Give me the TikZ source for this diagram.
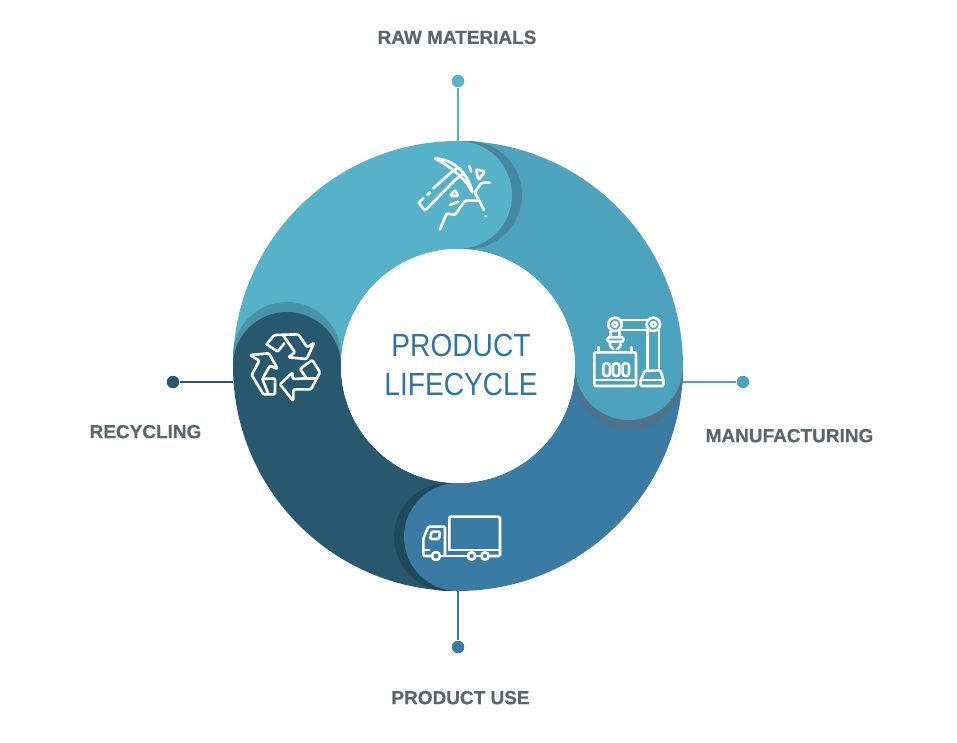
\documentclass[tikz,border=0pt]{standalone}
\usepackage{fontspec}
\setmainfont[BoldFeatures={FakeBold=0.5}]{Liberation Sans}
\newfontfamily\titlefont[FakeStretch=0.88]{Liberation Sans}
\usetikzlibrary{positioning,calc}
\definecolor{rawc}{HTML}{55B2C8}
\definecolor{manc}{HTML}{4DA3BE}
\definecolor{usec}{HTML}{3A7BA4}
\definecolor{recc}{HTML}{27586D}
\definecolor{rawsh}{HTML}{45879E}
\definecolor{mansh}{HTML}{4F728A}
\definecolor{usesh}{HTML}{1F4A5B}
\definecolor{recsh}{HTML}{4793A8}
\definecolor{labelc}{HTML}{5A666E}
\definecolor{titlec}{HTML}{2F74A0}
\tikzset{
    stage dot/.style={circle,fill=#1,inner sep=0pt,minimum size=12.5*0.02cm},
    stage label/.style={font=\bfseries\fontsize{10.8}{13}\selectfont,text=labelc,inner sep=0pt},
    stem/.style={line width=0.6pt},
    icon/.style={draw=white,line width=1.5pt,line join=round,line cap=round,rounded corners=0.7pt},
}
\newcommand{\ringpart}[2]{\fill[#2] (458,366) ++(#1:225) arc (#1:#1+90:225) -- ($(458,366)+(#1+90:117)$) arc (#1+90:#1:117) -- cycle;}

\begin{document}
\begin{tikzpicture}[x=0.02cm,y=-0.02cm]
    \useasboundingbox (0,0) rectangle (957,743);

    % ring, one quarter per stage
    \ringpart{180}{rawc}
    \ringpart{270}{manc}
    \ringpart{0}{usec}
    \ringpart{90}{recc}

    % rounded heads with their shadows
    \fill[rawsh] (468,195) circle (54);
    \fill[rawc] (458,195) circle (54);
    \fill[mansh] (629,376) circle (54);
    \fill[manc] (629,366) circle (54);
    \fill[usesh] (448,537) circle (54);
    \fill[usec] (458,537) circle (54);
    \fill[recsh] (287,356) circle (54);
    \fill[recc] (287,366) circle (54);

    \node[circle,fill=white,inner sep=0pt,minimum size=234*0.02cm] (hub) at (458,366) {};
    \node[font=\titlefont\fontsize{18.2}{22.7}\selectfont,text=titlec,align=center,inner sep=0pt] (title) at (461,365) {PRODUCT\\LIFECYCLE};

    % connectors
    \coordinate (ringN) at (458,141);
    \coordinate (ringE) at (683,382);
    \coordinate (ringS) at (458,591);
    \coordinate (ringW) at (233,382);
    \node[stage dot=rawc] (dotN) at (458,81) {};
    \node[stage dot=manc] (dotE) at (743,382) {};
    \node[stage dot=usec] (dotS) at (458,647) {};
    \node[stage dot=recc] (dotW) at (173,382) {};
    \draw[stem,draw=rawc] (dotN) -- (ringN);
    \draw[stem,draw=manc] (ringE) -- (dotE);
    \draw[stem,draw=usec] (ringS) -- (dotS);
    \draw[stem,draw=recc] (dotW) -- (ringW);

    \node[stage label] (lblN) [above=0.6cm of dotN, xshift=-0.02cm]{RAW MATERIALS};
    \node[stage label] (lblE) [below=0.8cm of dotE, xshift=0.93cm]{MANUFACTURING};
    \node[stage label] (lblS) [below=0.74cm of dotS, xshift=0.05cm]{PRODUCT USE};
    \node[stage label] (lblW) [below=0.72cm of dotW, xshift=-0.55cm]{RECYCLING};

    % pick and rock
    \begin{scope}[shift={(400,130)},scale=1/3,icon]
        \draw (105,85) .. controls (160,88) and (205,130) .. (218,190) .. controls (200,150) and (160,115) .. (105,85);
        \draw (150,130) -- (175,112) -- (192,130) -- (165,150);
        \draw (150,130) -- (100,175) (90,187) -- (82,194);
        \draw (70,205) -- (55,218) -- (75,242) -- (165,150);
        \draw (165,180) -- (150,198) -- (175,198) -- cycle;
        \draw (150,225) -- (175,215);
        \draw (228,118) -- (255,125) -- (235,150) -- cycle;
        \draw (208,108) -- (213,125);
        \draw (120,298) -- (140,250) -- (165,255) -- (195,212) -- (238,212) -- (224,188) -- (245,158) -- (270,158);
        \draw (238,212) -- (252,240) (257,258) -- (257,258.5);
    \end{scope}

    % robot arm and crate
    \begin{scope}[shift={(560,300)},scale=1/3,icon]
        \draw (103,157) rectangle (228,258);
        \draw (103,240) -- (228,240);
        \draw (115,157) -- (115,142) (215,157) -- (215,142);
        \draw[rounded corners=1.5pt] (130,190) rectangle (150,228);
        \draw[rounded corners=1.5pt] (159,190) rectangle (178,228);
        \draw[rounded corners=1.5pt] (188,190) rectangle (207,228);
        \draw (165,73) circle (20) (165,73) circle (7);
        \draw (280,73) circle (20) (280,73) circle (7);
        \draw (185,60) -- (260,60) (185,90) -- (260,90);
        \draw (263,92) -- (263,212) (297,92) -- (297,212);
        \draw (255,212) -- (302,212) -- (310,240) -- (310,258) -- (242,258) -- (242,240) -- cycle;
        \draw (242,240) -- (310,240);
        \draw (152,95) -- (152,112) (178,95) -- (178,112);
        \draw (143,112) -- (190,112) -- (190,125) -- (143,125) -- cycle;
        \draw (150,125) -- (150,138) -- (160,147) (182,125) -- (182,138) -- (172,147);
    \end{scope}

    % truck
    \begin{scope}[shift={(390,470)},scale=1/3,icon]
        \draw (178,240) -- (178,140) -- (330,140) -- (330,258) -- (298,258);
        \draw (178,240) -- (330,240);
        \draw (272,258) -- (258,258) (232,258) -- (150,258);
        \draw (125,258) -- (100,258) -- (100,205) -- (115,170) -- (165,170) -- (165,258);
        \draw (125,185) -- (150,185) -- (147,207) -- (120,207) -- cycle;
        \draw (100,240) -- (118,240);
        \draw (138,258) circle (12) (245,258) circle (11) (285,258) circle (11);
    \end{scope}

    % recycling arrows
    \begin{scope}[shift={(225,295)},scale=1/3,icon]
        \draw (125,148) -- (148,120) -- (220,118) -- (247,157) -- (268,143) -- (245,192) -- (190,187) -- (210,172) -- (175,122);
        \draw (125,148) -- (158,170) -- (178,145);
        \draw (103,197) -- (75,180) -- (132,175) -- (158,222) -- (135,212) -- (112,252) -- (150,250) -- (150,298) -- (115,298) -- (80,240) -- cycle;
        \draw (112,252) -- (130,296);
        \draw (245,250) -- (225,222) -- (262,195) -- (285,232) -- (258,283) -- (205,283) -- (205,318) -- (165,268) -- (203,232) -- (203,252) -- cycle;
        \draw (245,250) -- (272,250);
    \end{scope}
\end{tikzpicture}
\end{document}
